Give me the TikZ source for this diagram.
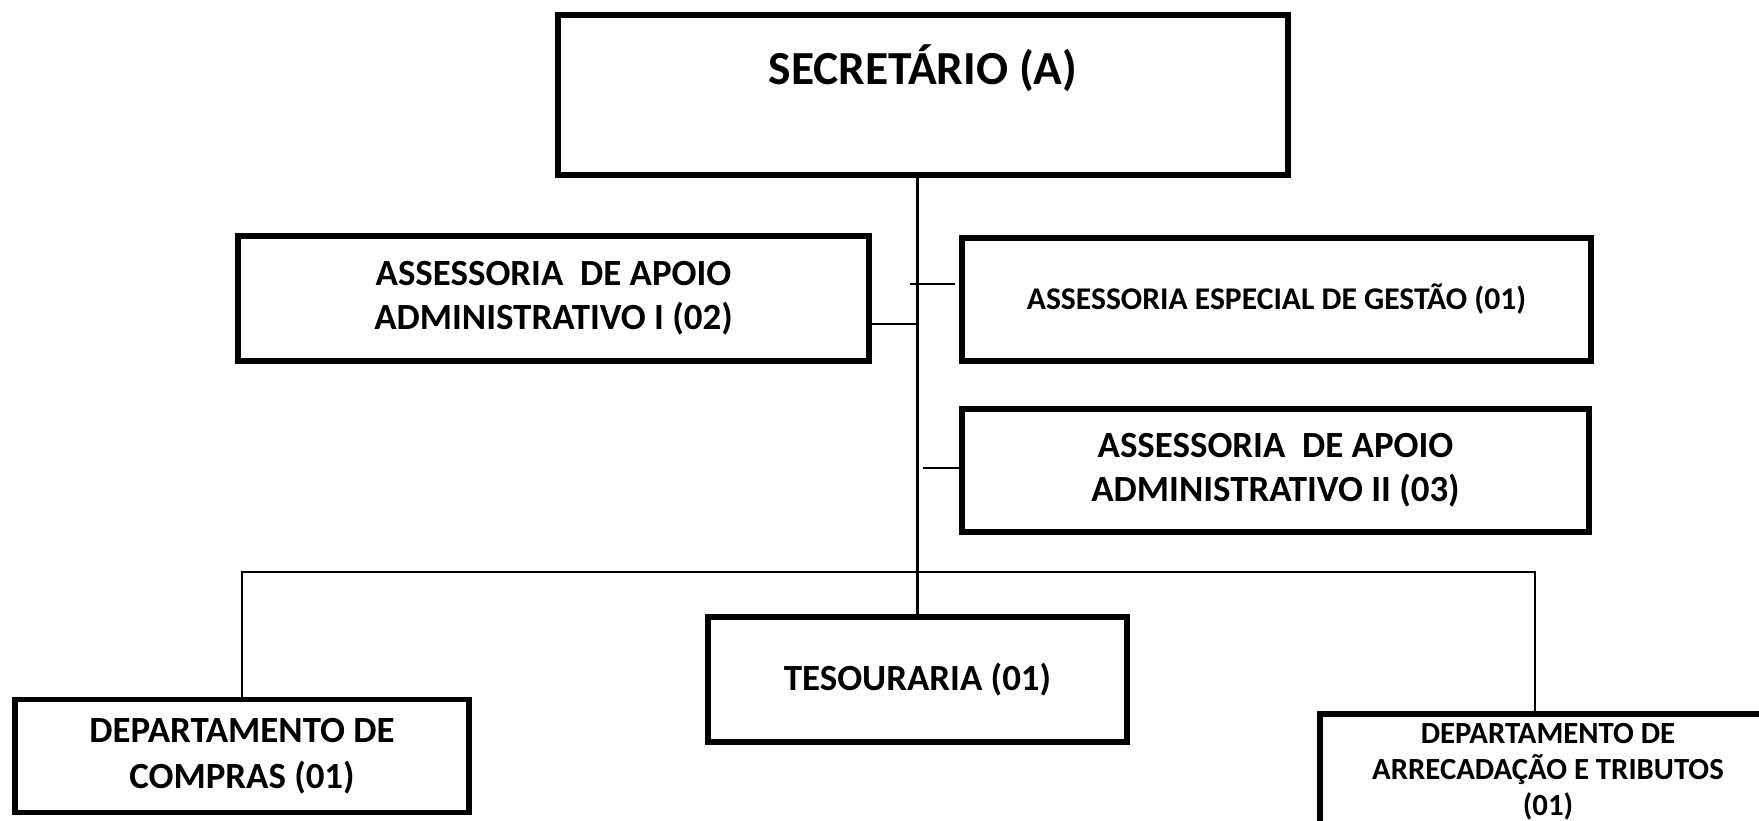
\documentclass[tikz,border=0pt]{standalone}
\usepackage{fontspec}
\setmainfont{Carlito}
\usepackage{tikz}
\usetikzlibrary{positioning, calc}
\definecolor{LineColor}{RGB}{0,0,0}
\tikzstyle{orgbox} = [draw=LineColor, line width=3pt, inner sep=0pt, align=center, font=\bfseries]
\tikzstyle{trunk} = [LineColor, line width=1.8pt]
\tikzstyle{branch} = [LineColor, line width=0.9pt]

\begin{document}
\begin{tikzpicture}[x=0.02cm, y=-0.02cm]
            \useasboundingbox (0,0) rectangle (1759,821);
            \clip (0,0) rectangle (1759,821);

            % Top
            \node[orgbox, minimum width=14.6cm, minimum height=3.2cm] (sec) at (923,95) {};
            \node[font=\fontsize{27}{32}\selectfont\bfseries] (sectitle) at (923,68) {SECRETÁRIO (A)};

            % Assessorias
            \node[orgbox, minimum width=12.62cm, minimum height=2.5cm, font=\fontsize{21}{25}\selectfont\bfseries] (asI) at (553.5,298.5) {ASSESSORIA\ \ DE APOIO\\ADMINISTRATIVO I (02)};
            \node[orgbox, minimum width=12.58cm, minimum height=2.46cm, font=\fontsize{18}{22}\selectfont\bfseries] (asE) at (1276.5,299.5) {ASSESSORIA ESPECIAL DE GESTÃO (01)};
            \node[orgbox, minimum width=12.54cm, minimum height=2.46cm, font=\fontsize{21}{25}\selectfont\bfseries] (asII) at (1275.5,470.5) {ASSESSORIA\ \ DE APOIO\\ADMINISTRATIVO II (03)};

            % Departamentos
            \node[orgbox, minimum width=8.38cm, minimum height=2.5cm, font=\fontsize{21}{25}\selectfont\bfseries] (tes) at (917.5,679.5) {TESOURARIA (01)};
            \node[orgbox, minimum width=9.08cm, minimum height=2.26cm, font=\fontsize{21}{26}\selectfont\bfseries] (comp) at (242,756) {DEPARTAMENTO DE\\COMPRAS (01)};
            \node[orgbox, minimum width=9.12cm, minimum height=2.24cm] (arr) at (1548,770) {};
            \node[align=center, inner sep=0pt, font=\fontsize{17.5}{20.5}\selectfont\bfseries] (arrtitle) at (1548,772) {DEPARTAMENTO DE\\ARRECADAÇÃO E TRIBUTOS\\(01)};

            % Connectors
            \coordinate (jI) at (918,324);
            \coordinate (tEa) at (910,284);
            \coordinate (tEb) at (955,284);
            \coordinate (jII) at (923,468);
            \coordinate (busL) at (comp.north |- 0,572);
            \coordinate (busR) at (1535,572);

            \draw[trunk] (sec.south -| tes.north) -- (tes.north);
            \draw[branch] (jI) -- (jI -| asI.east);
            \draw[branch] (tEa) -- (tEb);
            \draw[branch] (jII) -- (jII -| asII.west);
            \draw[branch] (comp.north) -- (busL) -- (busR) -- (busR |- arr.north);
        \end{tikzpicture}
\end{document}
